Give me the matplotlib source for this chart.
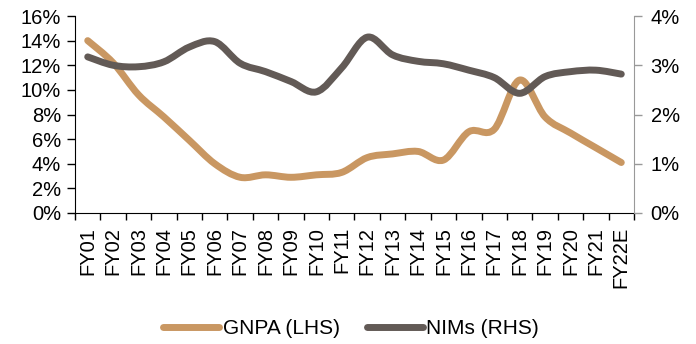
import matplotlib
matplotlib.use("Agg")
import matplotlib.pyplot as plt
import numpy as np
from matplotlib.path import Path
from matplotlib.patches import PathPatch
from matplotlib.lines import Line2D
from matplotlib.ticker import FixedLocator, PercentFormatter

plt.rcParams['font.family'] = ['Liberation Sans', 'DejaVu Sans']

years = ["FY01", "FY02", "FY03", "FY04", "FY05", "FY06", "FY07", "FY08", "FY09", "FY10",
         "FY11", "FY12", "FY13", "FY14", "FY15", "FY16", "FY17", "FY18", "FY19", "FY20",
         "FY21", "FY22E"]
gnpa = [14.0, 12.2, 9.6, 7.8, 5.9, 4.0, 2.9, 3.1, 2.9, 3.1,
        3.3, 4.5, 4.8, 5.0, 4.3, 6.6, 6.8, 10.8, 7.8, 6.5,
        5.3, 4.1]
nims = [3.17, 3.00, 2.97, 3.07, 3.37, 3.48, 3.04, 2.87, 2.67, 2.46,
        2.95, 3.57, 3.21, 3.08, 3.03, 2.90, 2.75, 2.43, 2.77, 2.87,
        2.90, 2.82]

GNPA_COLOR = "#C99762"
NIMS_COLOR = "#625A56"
LW = 5
FS = 14.5


def smooth_path(xs, ys):
    """Cubic Bezier path through the points (Catmull-Rom style smoothing)."""
    pts = np.column_stack([xs, ys]).astype(float)
    n = len(pts)
    verts = [pts[0]]
    codes = [Path.MOVETO]
    for i in range(n - 1):
        p0 = pts[i - 1] if i > 0 else pts[i]
        p1 = pts[i]
        p2 = pts[i + 1]
        p3 = pts[i + 2] if i + 2 < n else pts[i + 1]
        c1 = p1 + (p2 - p0) / 6.0
        c2 = p2 - (p3 - p1) / 6.0
        verts += [c1, c2, p2]
        codes += [Path.CURVE4] * 3
    return Path(verts, codes)


fig = plt.figure(figsize=(6.96, 3.44), dpi=100)
ax = fig.add_axes([75 / 696, 1 - 213 / 344, (634 - 75) / 696, (213 - 16) / 344])
ax2 = ax.twinx()

x = np.arange(len(years))

ax.add_patch(PathPatch(smooth_path(x, gnpa), facecolor="none", edgecolor=GNPA_COLOR,
                       lw=LW, capstyle="round", joinstyle="round", zorder=3))
ax2.add_patch(PathPatch(smooth_path(x, nims), facecolor="none", edgecolor=NIMS_COLOR,
                        lw=LW, capstyle="round", joinstyle="round", zorder=2))

ax.set_xlim(-0.5, len(years) - 0.5)
ax.set_ylim(0, 16)
ax2.set_ylim(0, 4)
ax.set_yticks(np.arange(0, 17, 2))
ax2.set_yticks(np.arange(0, 5, 1))
ax.yaxis.set_major_formatter(PercentFormatter(decimals=0))
ax2.yaxis.set_major_formatter(PercentFormatter(decimals=0))

ax.set_xticks(x)
ax.set_xticklabels(years, rotation=90, va="top", ha="center")
ax.xaxis.set_minor_locator(FixedLocator(np.arange(-0.5, len(years), 1)))
ax.tick_params(axis="x", which="major", length=0, pad=10, labelsize=FS)
ax.tick_params(axis="x", which="minor", length=5, width=1, color="black")
ax.tick_params(axis="y", length=6, width=1, labelsize=FS, pad=4)
ax2.tick_params(axis="y", length=6, width=1, labelsize=FS, pad=6, color="#999999")

for a in (ax, ax2):
    a.spines["top"].set_visible(False)
ax.spines["right"].set_visible(False)
ax2.spines["left"].set_visible(False)
ax2.spines["bottom"].set_visible(False)
ax2.spines["right"].set_color("#999999")
ax.spines["left"].set_color("black")
ax.spines["bottom"].set_color("black")

handles = [Line2D([], [], color=GNPA_COLOR, lw=LW, solid_capstyle="round"),
           Line2D([], [], color=NIMS_COLOR, lw=LW, solid_capstyle="round")]
fig.legend(handles, ["GNPA (LHS)", "NIMs (RHS)"], loc="center", bbox_to_anchor=(351 / 696, 1 - 329 / 344),
           ncol=2, frameon=False, fontsize=15, handlelength=2.7, handletextpad=0.15,
           columnspacing=1.3)

fig.savefig("out.png", dpi=100)
